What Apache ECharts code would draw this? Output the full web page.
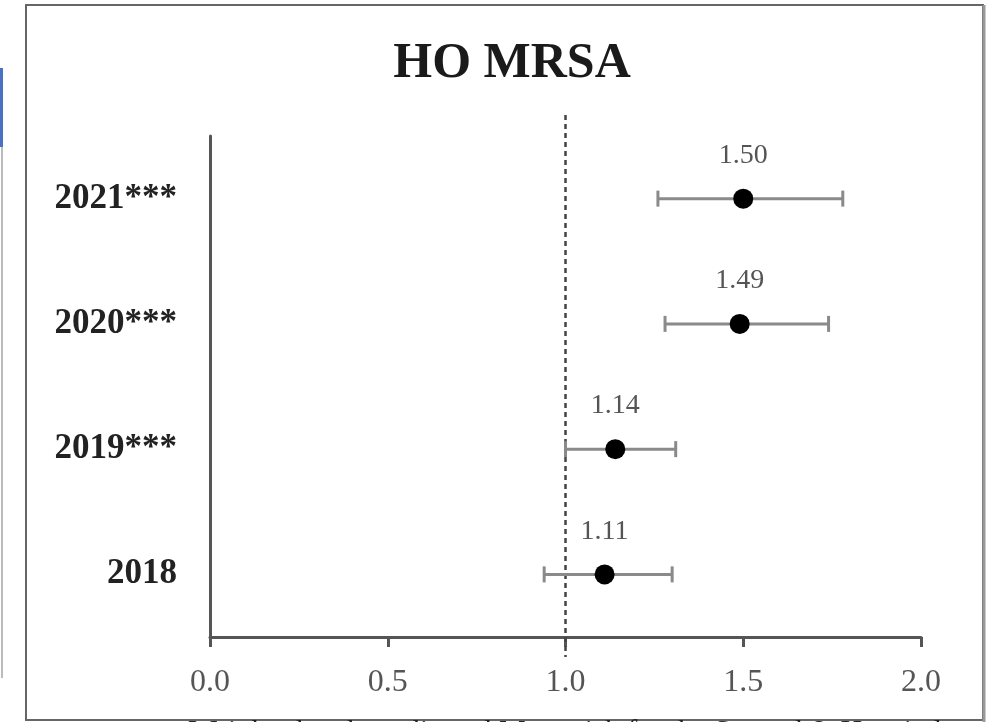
<!DOCTYPE html>
<html>
<head>
<meta charset="utf-8">
<script src="https://cdn.jsdelivr.net/npm/echarts@6/dist/echarts.min.js"></script>
<style>html,body{margin:0;padding:0;background:#fff;}#c{width:998px;height:722px;}</style>
</head>
<body>
<div id="c"></div>
<script>
const categories = ['2018', '2019***', '2020***', '2021***'];
const estimates = [1.11, 1.14, 1.49, 1.50];
const lowerCI = [0.94, 1.00, 1.28, 1.26];
const upperCI = [1.30, 1.31, 1.74, 1.78];
const refValue = 1.0;
const xTicks = [0.0, 0.5, 1.0, 1.5, 2.0];

const chart = echarts.init(document.getElementById('c'));
const serif = 'Liberation Serif';

const errData = categories.map((c, i) => [lowerCI[i], upperCI[i], i]);
const ptData = categories.map((c, i) => [estimates[i], i]);

chart.setOption({
  animation: false,
  backgroundColor: '#fff',
  title: {
    text: 'HO MRSA',
    left: 507, top: 34, textAlign: 'center',
    textStyle: {fontFamily: serif, fontWeight: 'bold', fontSize: 50, color: '#1a1a1a'}
  },
  grid: {left: 210, right: 77, top: 136, bottom: 85, containLabel: false, outerBoundsMode: 'none'},
  xAxis: {
    type: 'value', min: 0, max: 2, interval: 0.5,
    axisLine: {show: true, lineStyle: {color: '#555', width: 3}},
    axisTick: {show: true, length: 10, lineStyle: {color: '#555', width: 3}},
    splitLine: {show: false},
    axisLabel: {fontFamily: serif, fontSize: 32, color: '#555', margin: 30,
      formatter: v => v.toFixed(1)},
    name: 'Weighted and unadjusted Mean risk for the Second & Hospital',
    nameLocation: 'middle', nameGap: 80,
    nameTextStyle: {fontFamily: serif, fontSize: 30, color: '#222', verticalAlign: 'top'}
  },
  yAxis: {
    type: 'category', data: categories,
    axisLine: {show: true, lineStyle: {color: '#555', width: 3}},
    axisTick: {show: false},
    axisLabel: {fontFamily: serif, fontWeight: 'bold', fontSize: 35, color: '#222', margin: 33}
  },
  graphic: [
    {type: 'rect', shape: {x: 26, y: 5, width: 957, height: 715}, style: {fill: 'none', stroke: '#666', lineWidth: 2}, silent: true},
    {type: 'line', shape: {x1: 984, y1: 5, x2: 984, y2: 722}, style: {stroke: '#999', lineWidth: 3}},
    {type: 'line', shape: {x1: 2, y1: 147, x2: 2, y2: 678}, style: {stroke: '#bbb', lineWidth: 2}},
    {type: 'line', shape: {x1: 1.5, y1: 68, x2: 1.5, y2: 147}, style: {stroke: '#4a72c4', lineWidth: 3}}
  ],
  series: [
    {
      type: 'custom',
      clip: false,
      data: [[refValue]],
      renderItem: function (params, api) {
        const x = api.coord([api.value(0), 0])[0];
        const cs = params.coordSys;
        return {
          type: 'line',
          shape: {x1: x, y1: cs.y - 21, x2: x, y2: cs.y + cs.height + 20},
          style: {stroke: '#444', lineWidth: 2.5, lineDash: [5, 4]}
        };
      },
      z: 1
    },
    {
      type: 'custom',
      data: errData,
      renderItem: function (params, api) {
        const y = api.coord([0, api.value(2)])[1];
        const x1 = api.coord([api.value(0), 0])[0];
        const x2 = api.coord([api.value(1), 0])[0];
        const st = {stroke: '#8a8a8a', lineWidth: 3};
        return {
          type: 'group',
          children: [
            {type: 'line', shape: {x1: x1, y1: y, x2: x2, y2: y}, style: st},
            {type: 'line', shape: {x1: x1, y1: y - 8, x2: x1, y2: y + 8}, style: st},
            {type: 'line', shape: {x1: x2, y1: y - 8, x2: x2, y2: y + 8}, style: st}
          ]
        };
      },
      z: 2
    },
    {
      type: 'scatter',
      data: ptData,
      symbol: 'circle',
      symbolSize: 20,
      itemStyle: {color: '#000', opacity: 1},
      label: {
        show: true, position: 'top', distance: 19,
        fontFamily: serif, fontSize: 28, color: '#555',
        formatter: p => p.value[0].toFixed(2)
      },
      z: 3
    }
  ]
});
</script>
</body>
</html>
